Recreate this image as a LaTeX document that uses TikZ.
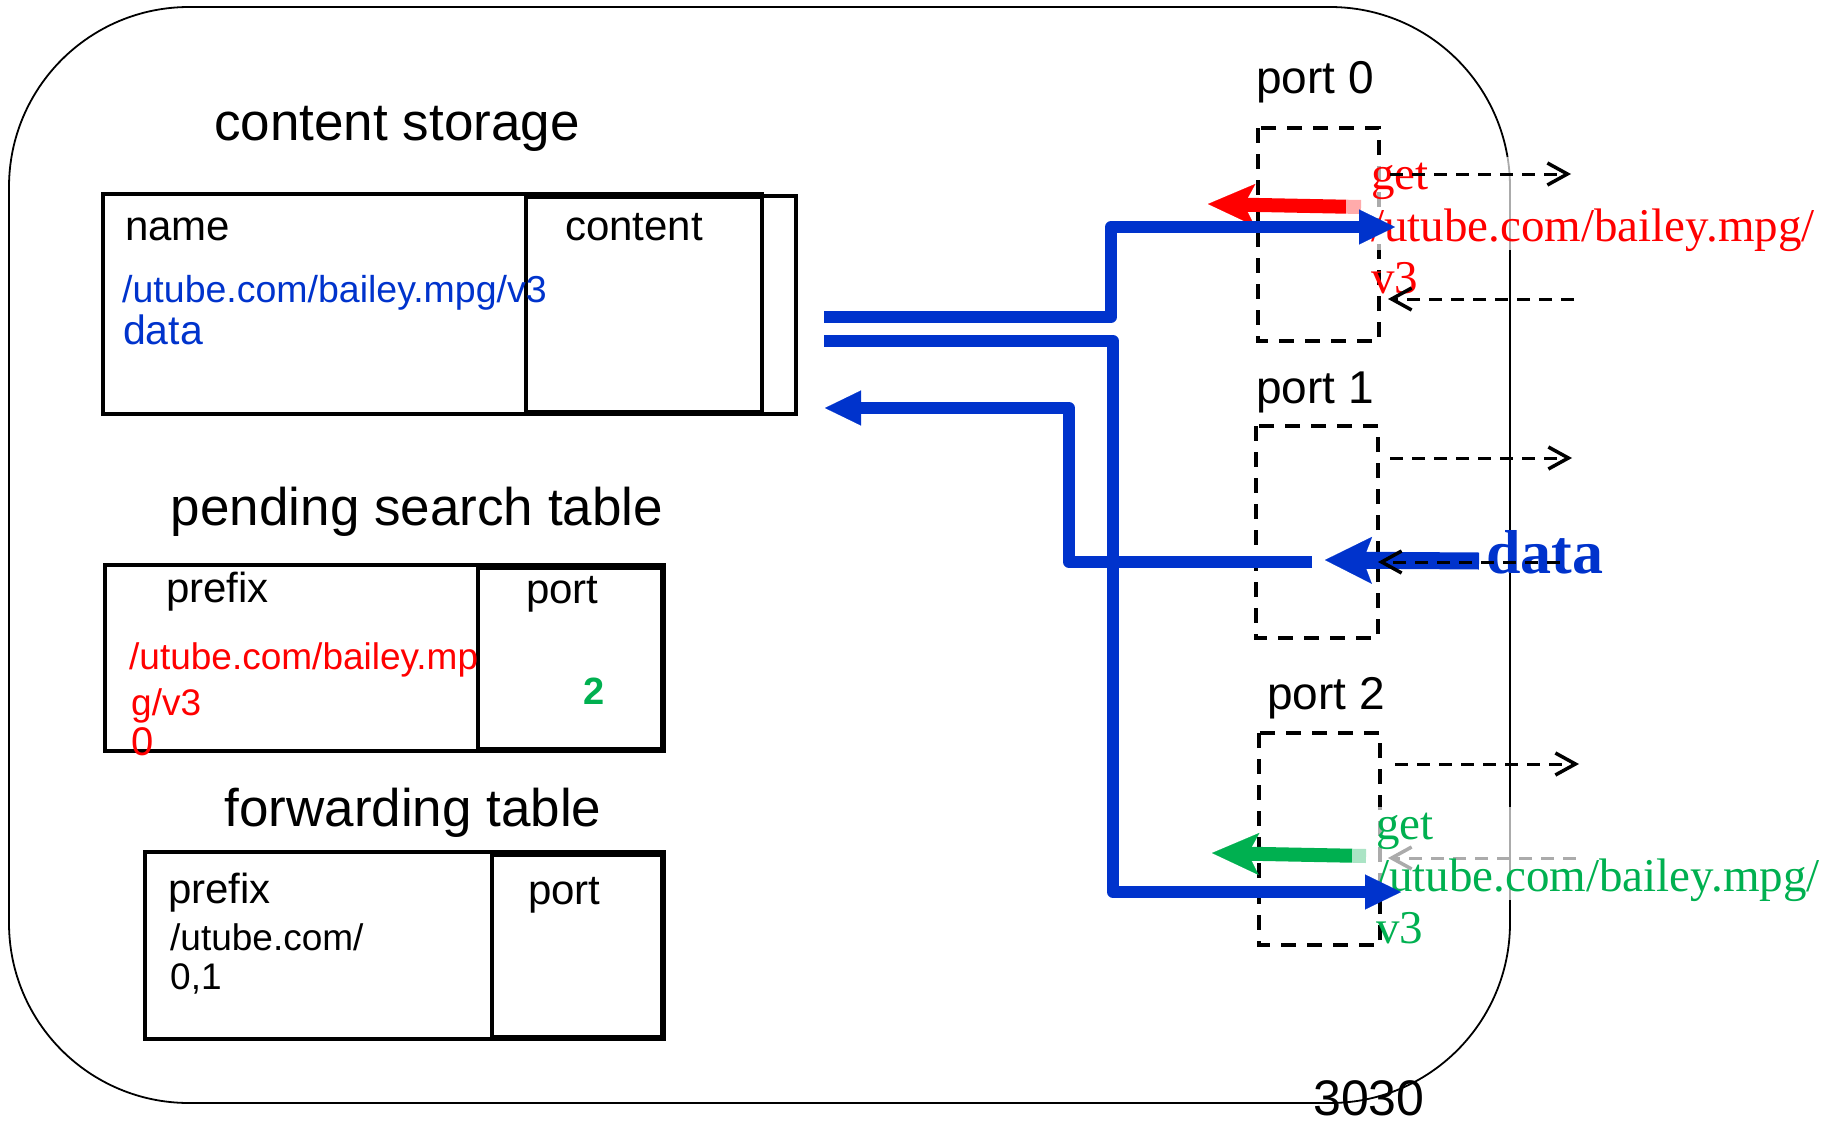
\documentclass[tikz,border=0pt]{standalone}
\usepackage{fontspec}
\setmainfont{Liberation Sans}
\newfontfamily\seriffont{Liberation Serif}
\usetikzlibrary{arrows.meta}
\definecolor{netblue}{RGB}{0,51,204}
\definecolor{getred}{RGB}{255,0,0}
\definecolor{getgreen}{RGB}{0,176,80}
\newcommand\fsz[1]{\fontsize{#1}{#1}\selectfont}

\begin{document}
\begin{tikzpicture}[x=1pt,y=-1pt,
  txt/.style={inner sep=0pt, anchor=base west},
  title/.style={inner sep=0pt, anchor=base, font=\fsz{53}},
  head/.style={txt, font=\fsz{42}},
  entry/.style={txt, font=\fsz{37}},
  portlabel/.style={txt, font=\fsz{46}},
  tablebox/.style={draw=black, line width=3.5pt},
  portbox/.style={draw=black, line width=3.2pt, dash pattern=on 15pt off 11pt},
  signal/.style={draw=black, line width=3pt, dash pattern=on 13pt off 9pt,
    -{Straight Barb[length=20pt, width=22pt, line width=3.5pt]}},
  link/.style={draw=netblue, line width=12pt, line join=round,
    -{Triangle[length=36pt, width=35pt, line width=0.1pt]}},
  request/.style={line width=14pt, -{Stealth[length=47pt, width=42pt, inset=11pt, line width=0.1pt]}},
  veil/.style={fill=white, fill opacity=0.67, draw=none},
  getmsg/.style={inner sep=0pt, anchor=base west, align=left,
    font={\seriffont\fontsize{47}{52}\selectfont}}
]
\useasboundingbox (0,0) rectangle (1831,1124);

% router outline
\draw[line width=1.8pt, rounded corners=180pt] (9,7) rectangle (1510,1103);

% content storage
\node[title] (cstitle) at (397,140) {content storage};
\draw[tablebox] (103,194) rectangle (762,414);
\draw[tablebox] (526,197) rectangle (762,412);
\draw[tablebox] (762,196) rectangle (796,414);
\node[head] (csname) at (125,240) {name};
\node[head] (cscontent) at (565,240) {content};
\node[entry, text=netblue, font=\fsz{37.5}] (csurl) at (122,302) {/utube.com/bailey.mpg/v3};
\node[entry, text=netblue, font=\fsz{41}] (csdata) at (123,344) {data};

% pending search table
\node[title] (pttitle) at (417,525) {pending search table};
\draw[tablebox] (105,565) rectangle (664,751);
\draw[tablebox] (478,568) rectangle (662,749);
\node[head] (ptprefix) at (166,602) {prefix};
\node[head] (ptport) at (526,603) {port};
\node[entry, text=getred] (pturl) at (129,669) {/utube.com/bailey.mp};
\node[entry, text=getred] (pturlb) at (131,715) {g/v3};
\node[entry, text=getred, font=\fsz{40}] (ptin) at (131,755) {0};
\node[entry, text=getgreen, font=\fsz{38}\bfseries] (ptout) at (583,704) {2};

% forwarding table
\node[title] (fwtitle) at (413,826) {forwarding table};
\draw[tablebox] (145,852) rectangle (664,1039);
\draw[tablebox] (492,855) rectangle (662,1037);
\node[head] (fwprefix) at (168,903) {prefix};
\node[head] (fwport) at (528,904) {port};
\node[entry] (fwurl) at (170,950) {/utube.com/};
\node[entry] (fwports) at (170,989) {0,1};

% ports
\node[portlabel] (p0label) at (1256,93) {port 0};
\node[portlabel] (p1label) at (1256,403) {port 1};
\node[portlabel] (p2label) at (1267,709) {port 2};
\draw[portbox] (1258,128) rectangle (1379,341);
\draw[portbox] (1256,426) rectangle (1378,638);
\draw[portbox] (1259,733) rectangle (1380,945);

\node[txt, font=\fsz{50}] (rid) at (1313,1115) {3030};

% interest packets arriving at ports 0 and 2
\coordinate (r0a) at (1361,207);
\coordinate (r0b) at (1208,204);
\coordinate (r2a) at (1366,856);
\coordinate (r2b) at (1212,853);
\draw[request, draw=getred, fill=getred] (r0a) -- (r0b);
\draw[request, draw=getgreen, fill=getgreen] (r2a) -- (r2b);

\coordinate (s2ia) at (1576,858);
\coordinate (s2ib) at (1388,858);
\draw[signal] (s2ia) -- (s2ib);

% text boxes of the interest messages (anchored on the last line)
\fill[veil] (1346,157) rectangle (1831,250);
\fill[veil] (1352,807) rectangle (1831,900);
\node[getmsg, text=getred] (get0) at (1371,293) {get\\/utube.com/bailey.mpg/\\v3};
\node[getmsg, text=getgreen] (get2) at (1376,943) {get\\/utube.com/bailey.mpg/\\v3};

% links between content storage and the ports
\coordinate (csoutA) at (824,317);
\coordinate (cornA1) at (1111,317);
\coordinate (cornA2) at (1111,227);
\coordinate (p0in) at (1395,227);
\coordinate (csoutB) at (824,341);
\coordinate (cornB1) at (1113,341);
\coordinate (cornB2) at (1113,892);
\coordinate (p2in) at (1401,892);
\coordinate (p1out) at (1312,562);
\coordinate (cornC1) at (1069,562);
\coordinate (cornC2) at (1069,408);
\coordinate (csin) at (825,408);
\draw[link] (csoutA) -- (cornA1) -- (cornA2) -- (p0in);
\draw[link] (csoutB) -- (cornB1) -- (cornB2) -- (p2in);
\draw[link] (p1out) -- (cornC1) -- (cornC2) -- (csin);

% data packet arriving at port 1
\coordinate (d1a) at (1479,561);
\coordinate (d1b) at (1325,560);
\draw[line width=17pt, draw=netblue, fill=netblue,
  -{Stealth[length=47pt, width=47pt, inset=9pt, line width=0.1pt]}] (d1a) -- (d1b);
\node[txt, text=netblue, font={\seriffont\bfseries\fsz{62}}] (datamsg) at (1486,573) {data};

% outgoing and incoming signals of the ports
\coordinate (s0oa) at (1390,174);
\coordinate (s0ob) at (1571,174);
\coordinate (s0ia) at (1574,299);
\coordinate (s0ib) at (1388,299);
\coordinate (s1oa) at (1390,458);
\coordinate (s1ob) at (1572,458);
\coordinate (s1ia) at (1560,562);
\coordinate (s1ib) at (1378,562);
\coordinate (s2oa) at (1395,764);
\coordinate (s2ob) at (1579,764);
\draw[signal] (s0oa) -- (s0ob);
\draw[signal] (s0ia) -- (s0ib);
\draw[signal] (s1oa) -- (s1ob);
\draw[signal] (s1ia) -- (s1ib);
\draw[signal] (s2oa) -- (s2ob);
\end{tikzpicture}
\end{document}
